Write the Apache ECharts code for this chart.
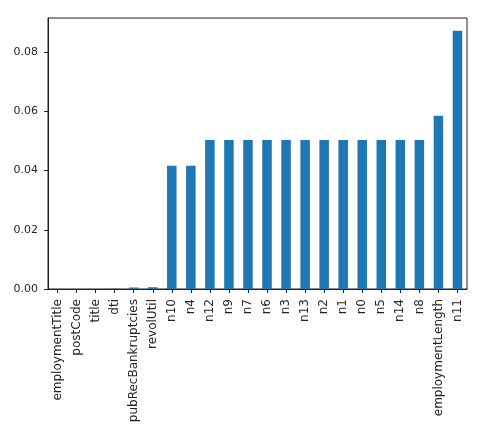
<!DOCTYPE html>
<html>
<head>
<meta charset="utf-8">
<script src="https://cdn.jsdelivr.net/npm/echarts@6/dist/echarts.min.js"></script>
<style>
  html, body { margin: 0; padding: 0; background: #fff; }
  #main { width: 502px; height: 432px; }
</style>
</head>
<body>
<div id="main"></div>
<script>
// missing-value ratio per feature
const features = ['employmentTitle', 'postCode', 'title', 'dti', 'pubRecBankruptcies', 'revolUtil',
  'n10', 'n4', 'n12', 'n9', 'n7', 'n6', 'n3', 'n13', 'n2', 'n1', 'n0', 'n5', 'n14', 'n8',
  'employmentLength', 'n11'];
const ratios = [0.0000, 0.0000, 0.0000, 0.0001, 0.0005, 0.0006,
  0.0416, 0.0416, 0.0503, 0.0503, 0.0503, 0.0503, 0.0503, 0.0503, 0.0503, 0.0503, 0.0503, 0.0503, 0.0503, 0.0503,
  0.0585, 0.0872];
const yTicks = [0, 0.02, 0.04, 0.06, 0.08];

var chartDom = document.getElementById('main');
var myChart = echarts.init(chartDom);
var option;

const font = 'DejaVu Sans';

option = {
  animation: false,
  grid: {
    left: 48,
    top: 18,
    right: 35,
    bottom: 143,
    show: true,
    borderColor: '#222',
    borderWidth: 1,
    backgroundColor: 'transparent'
  },
  xAxis: {
    type: 'category',
    data: features,
    boundaryGap: true,
    axisLine: { lineStyle: { color: '#222', width: 1 } },
    axisTick: { show: true, alignWithLabel: true, length: 4, lineStyle: { color: '#222', width: 1 } },
    axisLabel: {
      rotate: 90,
      interval: 0,
      margin: 10,
      color: '#262626',
      fontFamily: font,
      fontSize: 12
    }
  },
  yAxis: {
    type: 'value',
    min: 0,
    max: 0.0915,
    axisLine: { show: true, lineStyle: { color: '#222', width: 1 } },
    axisTick: { show: true, length: 4, lineStyle: { color: '#222', width: 1 }, customValues: yTicks },
    splitLine: { show: false },
    axisLabel: {
      margin: 10,
      color: '#262626',
      fontFamily: font,
      fontSize: 11,
      customValues: yTicks,
      formatter: v => v.toFixed(2)
    }
  },
  series: [{
    type: 'bar',
    data: ratios,
    barWidth: '50%',
    itemStyle: { color: '#1f77b4' }
  }]
};

option && myChart.setOption(option);
</script>
</body>
</html>
